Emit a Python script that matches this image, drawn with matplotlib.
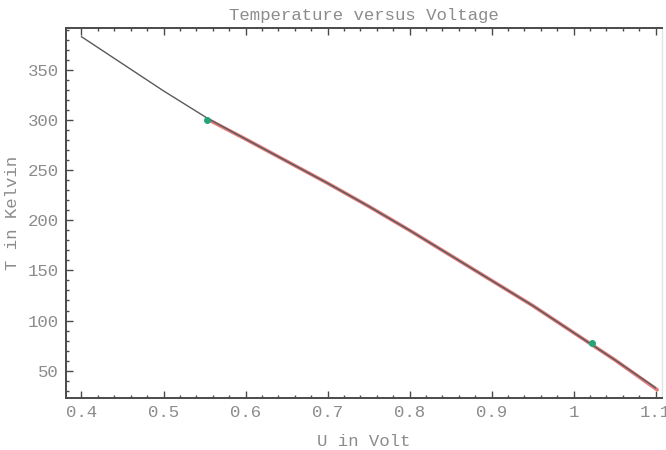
import matplotlib
matplotlib.use("Agg")
import matplotlib.pyplot as plt
from matplotlib.ticker import FixedLocator, FixedFormatter, MultipleLocator

u_fit = [0.40, 0.45, 0.50, 0.553, 0.60, 0.65, 0.70, 0.75, 0.80, 0.85, 0.90, 0.95, 1.00, 1.05, 1.10]
t_fit = [383, 356, 329, 302, 281, 259, 237, 214, 190, 165, 140, 115, 88, 61, 33]

u_meas = [0.553, 0.60, 0.65, 0.70, 0.75, 0.80, 0.85, 0.90, 0.95, 1.00, 1.05, 1.102]
t_meas = [301, 281, 259, 237, 214, 190, 165, 140, 115, 88, 61, 31]

# calibration points
u_cal = [0.553, 1.022]
t_cal = [300, 78]

x_ticks = [0.4, 0.5, 0.6, 0.7, 0.8, 0.9, 1.0, 1.1]
x_labels = ["0.4", "0.5", "0.6", "0.7", "0.8", "0.9", "1", "1.1"]
y_ticks = [50, 100, 150, 200, 250, 300, 350]

mono = "Liberation Mono"
txt = "#8c8c8c"
frame = "#4a4a4a"

fig = plt.figure(figsize=(6.66, 4.5), dpi=100)
ax = fig.add_axes([0.0991, 0.1156, 0.8949, 0.8222])

ax.plot(u_meas, t_meas, color="#e27a7a", linewidth=2.6, solid_capstyle="round")
ax.plot(u_fit, t_fit, color="#5a5a5a", linewidth=1.0)
ax.plot(u_cal, t_cal, "o", color="#22a677", markersize=4)

ax.set_xlim(0.3811, 1.1079)
ax.set_ylim(22.8, 391.7)

ax.xaxis.set_major_locator(FixedLocator(x_ticks))
ax.xaxis.set_major_formatter(FixedFormatter(x_labels))
ax.xaxis.set_minor_locator(MultipleLocator(0.02))
ax.yaxis.set_major_locator(FixedLocator(y_ticks))
ax.yaxis.set_minor_locator(MultipleLocator(10))

ax.tick_params(which="both", direction="in", top=True, right=False, colors=frame,
               labelcolor=txt, labelsize=12.5, width=1.0)
ax.tick_params(which="major", length=5, pad=5)
ax.tick_params(which="minor", length=2.5)
for lab in ax.get_xticklabels() + ax.get_yticklabels():
    lab.set_fontfamily(mono)

for side in ["left", "bottom", "top"]:
    ax.spines[side].set_color(frame)
    ax.spines[side].set_linewidth(1.4)
ax.spines["right"].set_color("#e4e4e4")
ax.spines["right"].set_linewidth(1.0)

ax.set_title("Temperature versus Voltage", fontfamily=mono, fontsize=12.5, color=txt, pad=6)
ax.set_xlabel("U in Volt", fontfamily=mono, fontsize=12.5, color=txt, labelpad=10)
ax.set_ylabel("T in Kelvin", fontfamily=mono, fontsize=12.5, color=txt, labelpad=6)

fig.savefig("out.png", dpi=100)
